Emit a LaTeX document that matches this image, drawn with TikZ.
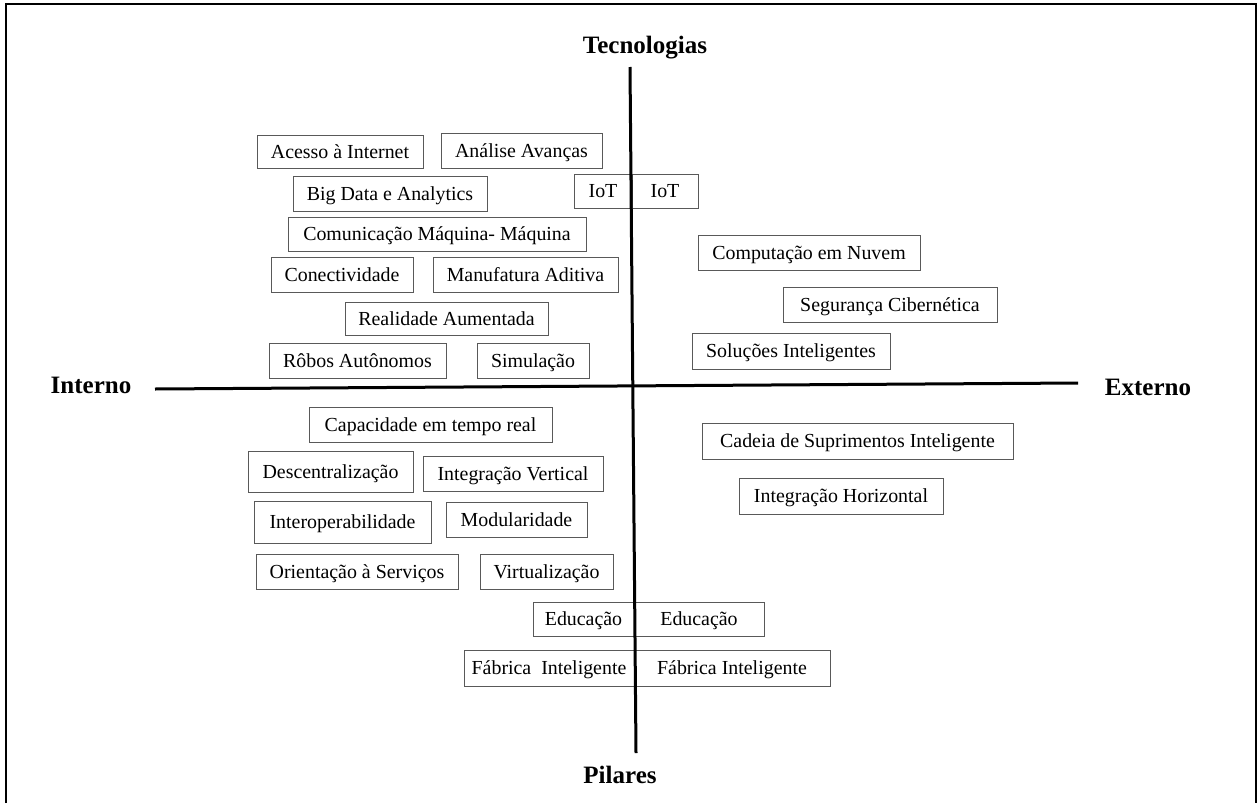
\documentclass[tikz,border=0pt]{standalone}
\usepackage{fontspec}
\setmainfont{Liberation Serif}
\usepackage{tikz}

\begin{document}
\begin{tikzpicture}[x=1pt,y=-1pt,
  caixa/.style={draw=black!65, line width=1pt, inner sep=0pt, text height=13pt, text depth=0pt, font=\fontsize{19.9}{22}\selectfont},
  titulo/.style={font=\fontsize{25}{28}\selectfont\bfseries},
  eixo/.style={line width=3pt}]
\useasboundingbox (0,0) rectangle (1257,803);
\draw[line width=2pt] (6,803) -- (6,4) -- (1256,4) -- (1256,803);

% tecnologias
\node [caixa, minimum width=166, minimum height=33] (acesso) at (340,151.5) {Acesso à Internet};
\node [caixa, minimum width=161, minimum height=35] (analise) at (521.5,150.5) {Análise Avanças};
\node [caixa, minimum width=194, minimum height=35] (bigdata) at (390,193.5) {Big Data e Analytics};
\node [caixa, minimum width=58, minimum height=34] (iotL) at (603,191) {IoT};
\node [caixa, minimum width=66, minimum height=34] (iotR) at (665,191) {IoT};
\node [caixa, minimum width=298, minimum height=34] (comunic) at (437,234) {Comunicação Máquina- Máquina};
\node [caixa, minimum width=142, minimum height=35] (conect) at (342,274.5) {Conectividade};
\node [caixa, minimum width=185, minimum height=35] (manuf) at (525.5,274.5) {Manufatura Aditiva};
\node [caixa, minimum width=203, minimum height=33] (realid) at (446.5,318.5) {Realidade Aumentada};
\node [caixa, minimum width=177, minimum height=35] (robos) at (357.5,360.5) {Rôbos Autônomos};
\node [caixa, minimum width=112, minimum height=35] (simul) at (533,360.5) {Simulação};
\node [caixa, minimum width=222, minimum height=35] (nuvem) at (809,252.5) {Computação em Nuvem};
\node [caixa, minimum width=214, minimum height=35] (seguranca) at (890,304.5) {Segurança Cibernética};
\node [caixa, minimum width=198, minimum height=36] (solucoes) at (791,351) {Soluções Inteligentes};

% pilares
\node [caixa, minimum width=243, minimum height=35] (capacidade) at (430.5,424.5) {Capacidade em tempo real};
\node [caixa, minimum width=165, minimum height=41] (descentr) at (330.5,471.5) {Descentralização};
\node [caixa, minimum width=180, minimum height=35] (integV) at (513,473.5) {Integração Vertical};
\node [caixa, minimum width=177, minimum height=42] (interop) at (342.5,522) {Interoperabilidade};
\node [caixa, minimum width=141, minimum height=35] (modular) at (516.5,519.5) {Modularidade};
\node [caixa, minimum width=202, minimum height=35] (orient) at (357,571.5) {Orientação à Serviços};
\node [caixa, minimum width=133, minimum height=35] (virtual) at (546.5,571.5) {Virtualização};
\node [caixa, minimum width=311, minimum height=36] (cadeia) at (857.5,441) {Cadeia de Suprimentos Inteligente};
\node [caixa, minimum width=204, minimum height=36] (integH) at (841,496) {Integração Horizontal};
\node [caixa, minimum width=101, minimum height=34] (educL) at (583.5,619) {Educação};
\node [caixa, minimum width=130, minimum height=34] (educR) at (699,619) {Educação};
\node [caixa, minimum width=170, minimum height=36] (fabL) at (549,668) {Fábrica\ \ Inteligente};
\node [caixa, minimum width=196, minimum height=36] (fabR) at (732,668) {Fábrica Inteligente};

% eixos
\node [titulo] (tec) at (645,48) {Tecnologias};
\node [titulo] (pil) at (620,775) {Pilares};
\node [titulo] (int) at (91,385) {Interno};
\node [titulo] (ext) at (1148,387) {Externo};
\coordinate (cima) at (630,67);
\coordinate (baixo) at (636,753);
\coordinate (esq) at (155,389);
\coordinate (dir) at (1078,383);
\draw [eixo] (cima) -- (baixo);
\draw [eixo] (esq) -- (dir);
\end{tikzpicture}
\end{document}
